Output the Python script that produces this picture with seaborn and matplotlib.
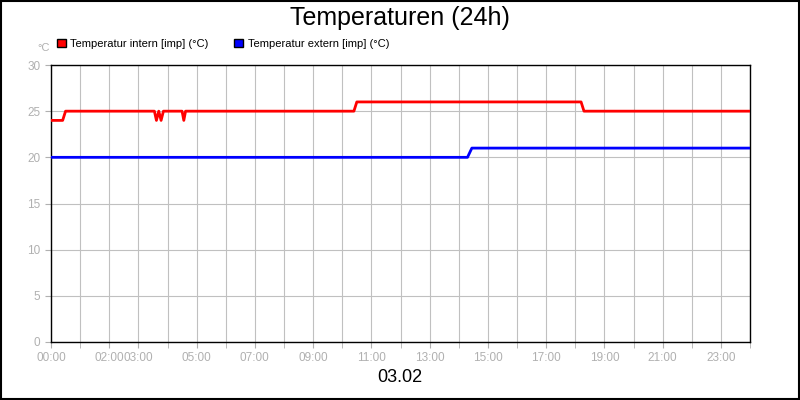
import matplotlib
matplotlib.use("Agg")
import matplotlib.pyplot as plt
import matplotlib.patches as mpatches
import seaborn as sns
import pandas as pd

# data (hours since midnight, degC)
intern_h = [0.0, 0.4, 0.5, 3.55, 3.62, 3.7, 3.78, 3.86, 4.5, 4.56, 4.62, 10.4, 10.5, 18.2, 18.3, 24.0]
intern_t = [24, 24, 25, 25, 24, 25, 24, 25, 25, 24, 25, 25, 26, 26, 25, 25]
extern_h = [0.0, 14.3, 14.45, 24.0]
extern_t = [20, 20, 21, 21]

tick_hours = [0, 2, 3, 5, 7, 9, 11, 13, 15, 17, 19, 21, 23]
tick_labels = ['%02d:00' % h for h in tick_hours]

sns.set_style("white")
plt.rcParams['font.family'] = ['Liberation Sans', 'DejaVu Sans']
plt.rcParams['text.color'] = 'black'

fig = plt.figure(figsize=(8, 4), dpi=100)
ax = fig.add_axes([51 / 800, 1 - 342 / 400, 699 / 800, 277 / 400])

df_i = pd.DataFrame({'h': intern_h, 't': intern_t})
df_e = pd.DataFrame({'h': extern_h, 't': extern_t})
sns.lineplot(data=df_i, x='h', y='t', ax=ax, color='#ff0000', linewidth=2, zorder=3)
sns.lineplot(data=df_e, x='h', y='t', ax=ax, color='#0000ff', linewidth=2, zorder=3)

ax.set_xlim(0, 24)
ax.set_ylim(0, 30)
ax.set_xticks(range(0, 25), minor=True)
ax.set_xticks(tick_hours)
ax.set_xticklabels(tick_labels)
ax.set_yticks(range(0, 31, 5))
ax.grid(True, which='both', axis='x', color='#c0c0c0', linewidth=0.8)
ax.grid(True, which='major', axis='y', color='#c0c0c0', linewidth=0.8)
ax.tick_params(axis='both', which='both', colors='#b0b0b0', labelcolor='#b0b0b0',
               labelsize=8.5, length=4, direction='out', bottom=True, left=True)
for s in ax.spines.values():
    s.set_color('black')
    s.set_linewidth(1)
ax.set_xlabel('')
ax.set_ylabel('')

fig.text(0.5, 0.955, 'Temperaturen (24h)', ha='center', va='center', fontsize=18, color='black')
fig.text(0.5, 0.055, '03.02', ha='center', va='center', fontsize=13, color='black')
fig.text(37 / 800, 1 - 48 / 400, '°C', ha='left', va='center', fontsize=8, color='#b0b0b0')

handles = [mpatches.Patch(facecolor='#ff0000', edgecolor='black', label='Temperatur intern [imp] (°C)'),
           mpatches.Patch(facecolor='#0000ff', edgecolor='black', label='Temperatur extern [imp] (°C)')]
fig.legend(handles=handles, loc='center left', bbox_to_anchor=(57 / 800, 1 - 44 / 400), ncol=2,
           frameon=False, fontsize=8, handlelength=0.8, handleheight=0.8, handletextpad=0.4,
           columnspacing=2.3, borderaxespad=0, borderpad=0, labelcolor='black')

fig.add_artist(mpatches.Rectangle((0.001, 0.002), 0.998, 0.996, transform=fig.transFigure,
                                  fill=False, edgecolor='black', linewidth=1.5))
fig.savefig('out.png', dpi=100)
